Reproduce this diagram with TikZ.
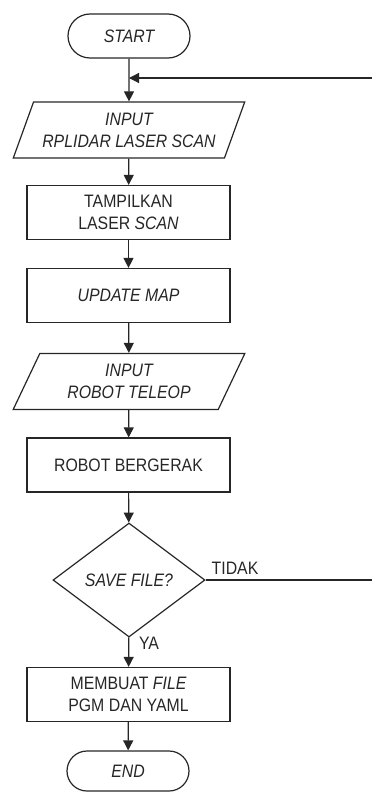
\documentclass[tikz,border=0pt]{standalone}
\usepackage{fontspec}
\setmainfont[FakeStretch=0.88]{Liberation Sans}
\usetikzlibrary{shapes.geometric,shapes.misc,arrows.meta}
\begin{document}
\begin{tikzpicture}[x=1pt,y=-1pt,
  font=\fontsize{18}{22}\selectfont,
  every node/.style={inner sep=0pt, align=center, text=black!85},
  flow/.style={line width=1.2pt, draw=black!85},
  arr/.style={flow, -{Triangle[length=10pt,width=10pt]}},
  term/.style={flow, rounded rectangle, minimum width=122pt, minimum height=44pt},
  proc/.style={flow, rectangle, minimum width=203pt, minimum height=54pt},
  io/.style={flow, trapezium, trapezium left angle=62, trapezium right angle=118,
    trapezium stretches=true, minimum width=232pt, minimum height=56pt},
  dec/.style={flow, diamond, minimum width=152pt, minimum height=114pt},
]
\useasboundingbox (0,0) rectangle (372,792);

\node[term] (start) at (129,36) {\itshape START};
\node[io] (in1) at (129,130) {\itshape INPUT\\\itshape RPLIDAR LASER SCAN};
\node[proc] (show) at (128.5,212.5) {TAMPILKAN\\LASER \itshape SCAN};
\node[proc] (upd) at (128.5,295.5) {\itshape UPDATE MAP};
\node[io] (in2) at (129,381.5) {\itshape INPUT\\\itshape ROBOT TELEOP};
\node[proc] (move) at (128.5,465) {ROBOT BERGERAK};
\node[dec] (save) at (129,580) {\itshape SAVE FILE?};
\node[proc] (make) at (128.5,694.5) {MEMBUAT \itshape FILE\\PGM DAN YAML};
\node[term, minimum height=40pt] (end) at (128,771) {\itshape END};

% loop-back line entering from the right
\coordinate (back) at (372,78);
\coordinate (join) at (129,78);
\coordinate (out) at (372,580);

\draw[arr] (start) -- (in1);
\draw[arr] (back) -- (join);
\draw[arr] (in1) -- (show);
\draw[arr] (show) -- (upd);
\draw[arr] (upd) -- (in2);
\draw[arr] (in2) -- (move);
\draw[arr] (move) -- (save);
\draw[arr] (save) -- (make);
\draw[arr] (make) -- (end);
\draw[flow] (save.east) -- (out);

\node (tidak) at (235,568) {TIDAK};
\node (ya) at (149,643) {YA};
\end{tikzpicture}
\end{document}
